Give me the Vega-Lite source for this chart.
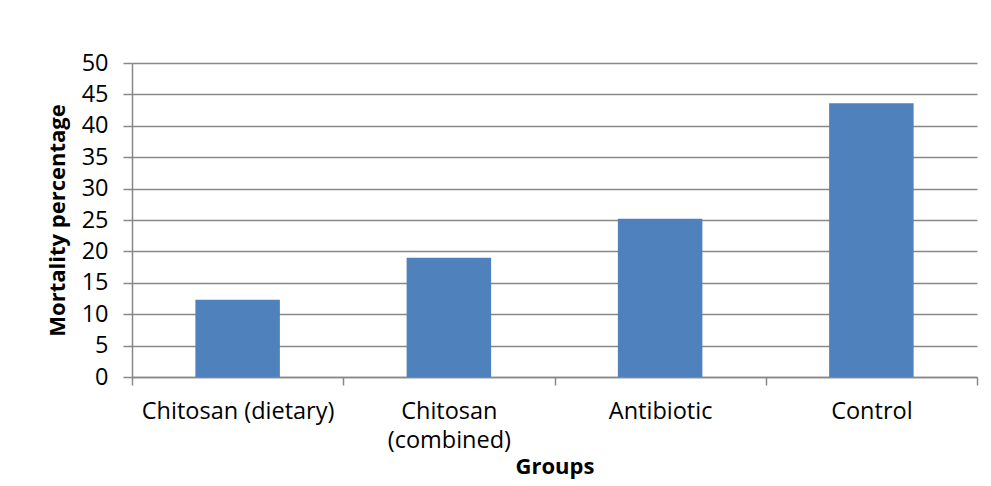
{
  "$schema": "https://vega.github.io/schema/vega-lite/v6.json",
  "width": 845,
  "height": 314,
  "autosize": "none",
  "padding": {"left": 132, "top": 63, "right": 14, "bottom": 109},
  "background": "white",
  "data": {
    "values": [
      {"group": "Chitosan (dietary)", "mortality": 12.3},
      {"group": "Chitosan (combined)", "mortality": 19.0},
      {"group": "Antibiotic", "mortality": 25.2},
      {"group": "Control", "mortality": 43.6}
    ]
  },
  "mark": {"type": "bar", "color": "#4F81BD", "width": {"band": 0.4}},
  "encoding": {
    "x": {
      "field": "group",
      "type": "nominal",
      "sort": null,
      "scale": {"paddingInner": 0, "paddingOuter": 0},
      "axis": {
        "title": "Groups",
        "titleFont": "Open Sans",
        "titleFontSize": 22,
        "titleFontWeight": "bold",
        "titleColor": "black",
        "titlePadding": 5,
        "labelAngle": 0,
        "labelFont": "Open Sans",
        "labelFontSize": 23.5,
        "labelColor": "black",
        "labelPadding": 14,
        "labelLineHeight": 29,
        "labelLimit": 0,
        "labelExpr": "datum.label == 'Chitosan (combined)' ? ['Chitosan', '(combined)'] : datum.label",
        "tickBand": "extent",
        "tickSize": 8,
        "tickColor": "#888888",
        "tickWidth": 1.5,
        "domainColor": "#888888",
        "domainWidth": 1.5,
        "grid": false
      }
    },
    "y": {
      "field": "mortality",
      "type": "quantitative",
      "scale": {"domain": [0, 50]},
      "axis": {
        "title": "Mortality percentage",
        "titleFont": "Open Sans",
        "titleFontSize": 22,
        "titleFontWeight": "bold",
        "titleColor": "black",
        "titlePadding": 12,
        "values": [0, 5, 10, 15, 20, 25, 30, 35, 40, 45, 50],
        "labelFont": "Open Sans",
        "labelFontSize": 23.5,
        "labelColor": "black",
        "labelPadding": 15,
        "tickSize": 9,
        "tickColor": "#888888",
        "tickWidth": 1.5,
        "domainColor": "#888888",
        "domainWidth": 1.5,
        "grid": true,
        "gridColor": "#888888",
        "gridWidth": 1.5
      }
    }
  },
  "config": {"view": {"stroke": null}}
}
